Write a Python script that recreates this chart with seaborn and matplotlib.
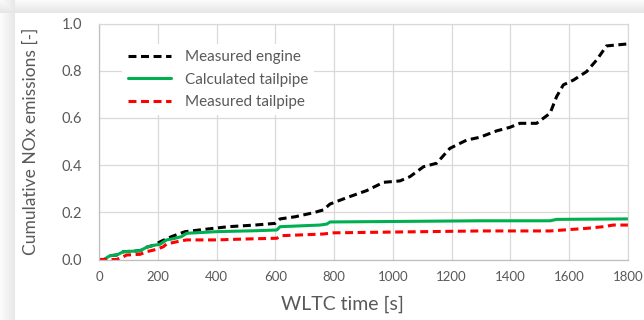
import numpy as np
import pandas as pd
import matplotlib
matplotlib.use('Agg')
import matplotlib.pyplot as plt
import seaborn as sns

# --- data ---
engine_t = [0, 20, 37, 60, 83, 140, 162, 185, 213, 247, 293, 361, 440, 531, 599, 616,
            667, 729, 763, 786, 843, 911, 968, 1024, 1058, 1104, 1149, 1194, 1251, 1296,
            1353, 1398, 1432, 1489, 1535, 1557, 1580, 1614, 1659, 1693, 1727, 1795, 1800]
engine_nox = [0, 0, 0.016, 0.019, 0.033, 0.037, 0.052, 0.060, 0.078, 0.097, 0.118, 0.128,
              0.139, 0.146, 0.153, 0.172, 0.181, 0.198, 0.210, 0.235, 0.262, 0.292, 0.327,
              0.333, 0.351, 0.393, 0.408, 0.471, 0.506, 0.518, 0.545, 0.560, 0.577, 0.577,
              0.620, 0.690, 0.740, 0.760, 0.796, 0.845, 0.905, 0.913, 0.913]

calc_t = [0, 17, 37, 60, 83, 140, 162, 185, 207, 230, 253, 281, 298, 400, 536, 605, 616,
          752, 775, 786, 1296, 1535, 1557, 1800]
calc_nox = [0, 0, 0.016, 0.019, 0.033, 0.037, 0.052, 0.060, 0.064, 0.083, 0.088, 0.097,
            0.111, 0.118, 0.122, 0.125, 0.139, 0.146, 0.150, 0.159, 0.164, 0.164, 0.170, 0.172]

meas_t = [0, 60, 83, 94, 140, 162, 196, 219, 230, 264, 298, 400, 502, 605, 622, 763, 797,
          1296, 1535, 1659, 1716, 1750, 1800]
meas_nox = [0, 0, 0.012, 0.019, 0.022, 0.033, 0.043, 0.054, 0.066, 0.075, 0.083, 0.083,
            0.087, 0.090, 0.101, 0.108, 0.113, 0.121, 0.121, 0.132, 0.139, 0.146, 0.146]

x_ticks = [0, 200, 400, 600, 800, 1000, 1200, 1400, 1600, 1800]
y_ticks = [0.0, 0.2, 0.4, 0.6, 0.8, 1.0]

sns.set_theme(style='white')
plt.rcParams['font.family'] = ['Lato', 'DejaVu Sans']
txt = '#595959'

fig = plt.figure(figsize=(6.44, 3.2), dpi=100, facecolor='white')

# soft shadow around the chart area (top and left)
h, w = 320, 644
bg = np.full((h, w), 255.0)
rows = np.arange(13)
bg[:13, :] = (250 - rows / 12 * 20)[:, None]
cols = np.arange(15)
bg[:, :15] = np.minimum(bg[:, :15], (252 - cols / 14 * 20)[None, :])
bg_ax = fig.add_axes([0, 0, 1, 1], zorder=-10)
bg_ax.imshow(np.dstack([bg, bg, bg]).astype(np.uint8), aspect='auto', interpolation='nearest')
bg_ax.axis('off')

ax = fig.add_axes([99 / 644, 1 - 259.5 / 320, 529 / 644, 236 / 320])
ax.set_facecolor('white')

sns.lineplot(x=engine_t, y=engine_nox, ax=ax, color='black', lw=2.2,
             label='Measured engine')
sns.lineplot(x=calc_t, y=calc_nox, ax=ax, color='#00b050', lw=2.2,
             label='Calculated tailpipe')
sns.lineplot(x=meas_t, y=meas_nox, ax=ax, color='#ff0000', lw=2.2,
             label='Measured tailpipe')
ax.lines[0].set_dashes((2.6, 1.5))
ax.lines[2].set_dashes((2.6, 1.5))

ax.set_xlim(0, 1800)
ax.set_ylim(0, 1.0)
ax.set_xticks(x_ticks)
ax.set_yticks(y_ticks)
ax.set_yticklabels([f'{v:.1f}' for v in y_ticks])
ax.grid(True, color='#d9d9d9', lw=0.9)
ax.set_axisbelow(True)
for s in ax.spines.values():
    s.set_color('#d9d9d9')
    s.set_linewidth(0.9)
ax.spines['left'].set_color('#bfbfbf')
ax.spines['bottom'].set_color('#bfbfbf')
ax.tick_params(axis='x', length=0, pad=8, labelsize=9.5, labelcolor=txt)
ax.tick_params(axis='y', length=0, pad=12, labelsize=10.5, labelcolor=txt)

ax.set_xlabel('WLTC time [s]', fontsize=14, color=txt)
ax.set_ylabel('Cumulative NOx emissions [-]', fontsize=12.5, color=txt)
ax.xaxis.set_label_coords(0.461, -0.155)
ax.yaxis.set_label_coords(-0.114, 0.5)

leg = ax.legend(loc='upper left', bbox_to_anchor=(0.044, 0.912), borderaxespad=0,
                fontsize=11, frameon=True, framealpha=1, edgecolor='none',
                facecolor='white', fancybox=False, handlelength=2.8,
                handletextpad=0.9, labelspacing=0.55, borderpad=0.4)
for t in leg.get_texts():
    t.set_color(txt)

fig.savefig('out.png', dpi=100, facecolor=fig.get_facecolor())
